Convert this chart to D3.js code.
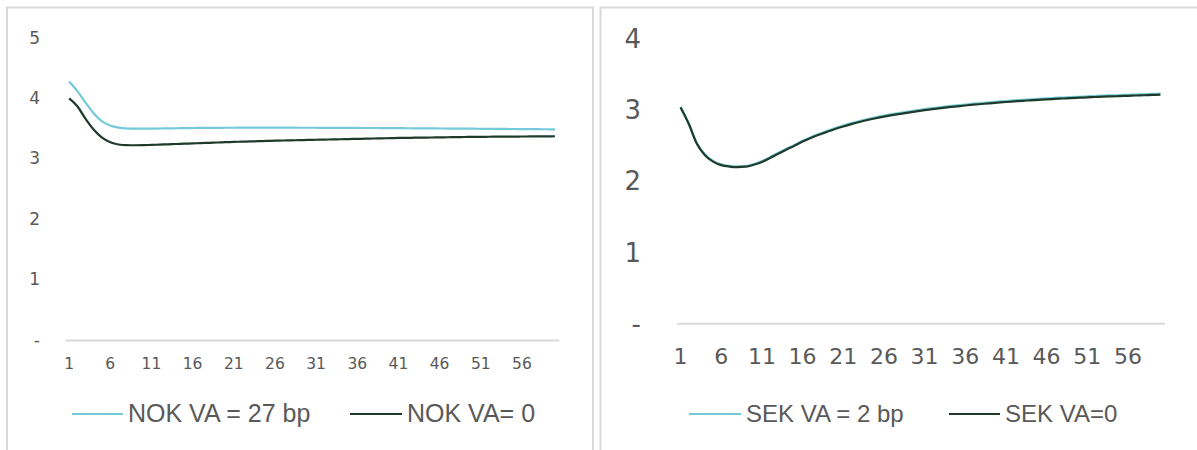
<!DOCTYPE html>
<html>
<head>
<meta charset="utf-8">
<script src="https://cdn.jsdelivr.net/npm/d3@7"></script>
<style>
  html, body { margin: 0; padding: 0; background: #ffffff; }
  svg { display: block; }
</style>
</head>
<body>
<svg id="chart" width="1197" height="450"></svg>
<script>
// ---------- DATA ----------
const maturities = d3.range(1, 61); // 1..60 years

const nokVA27 = [
  4.28, 4.12, 3.93, 3.75, 3.62, 3.55, 3.515, 3.502, 3.498, 3.498,
  3.500, 3.502, 3.504, 3.506, 3.508, 3.510, 3.511, 3.512, 3.513, 3.514,
  3.514, 3.515, 3.515, 3.515, 3.515, 3.515, 3.515, 3.515, 3.514, 3.514,
  3.514, 3.513, 3.513, 3.512, 3.512, 3.511, 3.510, 3.510, 3.509, 3.508,
  3.507, 3.506, 3.505, 3.504, 3.503, 3.502, 3.501, 3.500, 3.499, 3.498,
  3.497, 3.496, 3.495, 3.494, 3.493, 3.492, 3.491, 3.490, 3.489, 3.488
];
const nokVA0 = [
  4.00, 3.87, 3.66, 3.48, 3.35, 3.275, 3.237, 3.225, 3.224, 3.226,
  3.230, 3.235, 3.240, 3.245, 3.250, 3.255, 3.260, 3.265, 3.270, 3.275,
  3.280, 3.284, 3.288, 3.292, 3.296, 3.300, 3.303, 3.306, 3.309, 3.312,
  3.315, 3.318, 3.321, 3.324, 3.327, 3.330, 3.333, 3.336, 3.339, 3.342,
  3.345, 3.347, 3.349, 3.351, 3.353, 3.355, 3.357, 3.359, 3.361, 3.363,
  3.364, 3.365, 3.366, 3.367, 3.368, 3.369, 3.370, 3.371, 3.372, 3.373
];
const sekVA2 = [
  3.040, 2.810, 2.530, 2.370, 2.280, 2.230, 2.210, 2.202, 2.208, 2.235,
  2.277, 2.332, 2.392, 2.449, 2.504, 2.562, 2.612, 2.658, 2.700, 2.740,
  2.777, 2.810, 2.840, 2.867, 2.892, 2.914, 2.935, 2.954, 2.972, 2.989,
  3.005, 3.020, 3.034, 3.047, 3.059, 3.071, 3.082, 3.092, 3.102, 3.111,
  3.120, 3.128, 3.136, 3.143, 3.150, 3.157, 3.163, 3.169, 3.175, 3.180,
  3.185, 3.190, 3.195, 3.199, 3.203, 3.207, 3.211, 3.215, 3.219, 3.223
];
const sekVA0 = [
  3.030, 2.800, 2.520, 2.360, 2.270, 2.220, 2.200, 2.192, 2.198, 2.225,
  2.265, 2.320, 2.380, 2.437, 2.492, 2.550, 2.600, 2.645, 2.687, 2.727,
  2.763, 2.796, 2.826, 2.853, 2.878, 2.900, 2.921, 2.940, 2.958, 2.975,
  2.991, 3.006, 3.020, 3.033, 3.045, 3.057, 3.068, 3.078, 3.088, 3.097,
  3.106, 3.114, 3.122, 3.129, 3.136, 3.143, 3.149, 3.155, 3.161, 3.166,
  3.171, 3.176, 3.181, 3.185, 3.189, 3.193, 3.197, 3.201, 3.205, 3.209
];

const xTickLabels = [1, 6, 11, 16, 21, 26, 31, 36, 41, 46, 51, 56];
const nokYTicks = [0, 1, 2, 3, 4, 5];
const sekYTicks = [0, 1, 2, 3, 4];

const nokSeriesNames = ["NOK VA = 27 bp", "NOK VA= 0"];
const sekSeriesNames = ["SEK VA = 2 bp", "SEK VA=0"];

// ---------- STYLE ----------
const colLight = "#74cad8";
const colDark = "#1d3a2b";
const textCol = "#595959";
const gridCol = "#d9d9d9";
const numFont = "'DejaVu Sans', sans-serif";
const legFont = "'Liberation Sans', Arial, sans-serif";

const svg = d3.select("#chart");

// panel frames
svg.append("rect").attr("x", 7).attr("y", 7.5).attr("width", 586).attr("height", 460)
  .attr("fill", "none").attr("stroke", gridCol).attr("stroke-width", 2);
svg.append("rect").attr("x", 600.5).attr("y", 7.5).attr("width", 620).attr("height", 460)
  .attr("fill", "none").attr("stroke", gridCol).attr("stroke-width", 2);

function drawPanel(cfg) {
  const g = svg.append("g");
  const x = d3.scaleBand().domain(maturities).range(cfg.xRange).padding(0);
  const y = d3.scaleLinear().domain([0, cfg.yMax]).range([cfg.y0, cfg.yTop]);
  const cx = d => x(d) + x.bandwidth() / 2;

  // y axis labels
  const ya = d3.axisLeft(y).tickValues(cfg.yTicks).tickSize(0)
    .tickFormat(d => d === 0 ? "-" : d3.format("d")(d));
  const yg = g.append("g").attr("transform", `translate(${cfg.yLabelX},0)`).call(ya);
  yg.select(".domain").remove();
  yg.selectAll("text").attr("x", 0).attr("dy", cfg.yDy)
    .style("font-family", numFont).style("font-size", cfg.yFont + "px").attr("fill", textCol);

  // x axis
  const xa = d3.axisBottom(x).tickValues(xTickLabels).tickSize(0).tickSizeOuter(0);
  const xg = g.append("g").attr("transform", `translate(0,${cfg.y0})`).call(xa);
  xg.select(".domain").attr("stroke", gridCol).attr("stroke-width", 2);
  xg.selectAll("text").attr("dy", 0).attr("y", cfg.xLabelY)
    .style("font-family", numFont).style("font-size", cfg.xFont + "px").attr("fill", textCol);

  const line = d3.line().x((d, i) => cx(maturities[i])).y(d => y(d)).curve(d3.curveMonotoneX);

  g.append("path").datum(cfg.light).attr("d", line).attr("fill", "none")
    .attr("stroke", colLight).attr("stroke-width", 2.2).attr("stroke-linejoin", "round");
  g.append("path").datum(cfg.dark).attr("d", line).attr("fill", "none")
    .attr("stroke", colDark).attr("stroke-width", 2.2).attr("stroke-linejoin", "round");

  // legend
  const items = [
    { name: cfg.names[0], color: colLight, x1: cfg.leg[0][0], x2: cfg.leg[0][1] },
    { name: cfg.names[1], color: colDark, x1: cfg.leg[1][0], x2: cfg.leg[1][1] }
  ];
  const lg = g.append("g");
  items.forEach(it => {
    lg.append("line").attr("x1", it.x1).attr("x2", it.x2).attr("y1", 414).attr("y2", 414)
      .attr("stroke", it.color).attr("stroke-width", 2.2);
    lg.append("text").attr("x", it.x2 + 5).attr("y", 422)
      .style("font-family", legFont).style("font-size", cfg.legFont + "px")
      .attr("fill", textCol).text(it.name);
  });
}

drawPanel({
  xRange: [65, 559], y0: 340, yTop: 38, yMax: 5, yTicks: nokYTicks,
  yLabelX: 40, yDy: "0.3em", yFont: 17, xFont: 15.5, xLabelY: 29,
  light: nokVA27, dark: nokVA0, names: nokSeriesNames,
  leg: [[72, 123], [350, 402]], legFont: 25
});

drawPanel({
  xRange: [676.5, 1164.5], y0: 323.3, yTop: 38.3, yMax: 4, yTicks: sekYTicks,
  yLabelX: 641, yDy: "0.35em", yFont: 26, xFont: 22, xLabelY: 41,
  light: sekVA2, dark: sekVA0, names: sekSeriesNames,
  leg: [[689, 741], [949, 1000]], legFont: 24
});
</script>
</body>
</html>
